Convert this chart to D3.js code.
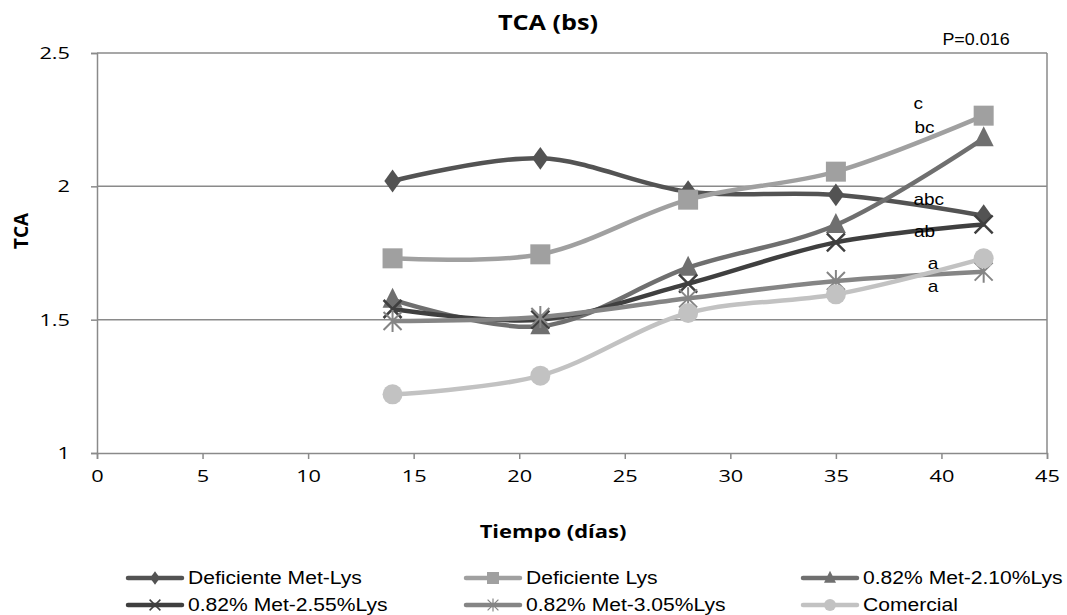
<!DOCTYPE html>
<html>
<head>
<meta charset="utf-8">
<script src="https://cdn.jsdelivr.net/npm/d3@7"></script>
<style>
  body { margin: 0; background: #fff; }
  svg { display: block; }
</style>
</head>
<body>
<div id="chart"></div>
<script>
const days = [14, 21, 28, 35, 42];
const seriesNames = ["Deficiente Met-Lys", "Deficiente Lys", "0.82% Met-2.10%Lys",
                     "0.82% Met-2.55%Lys", "0.82% Met-3.05%Lys", "Comercial"];
const defMetLys = [2.02, 2.105, 1.98, 1.968, 1.89];
const defLys = [1.73, 1.745, 1.95, 2.055, 2.265];
const met210 = [1.575, 1.475, 1.695, 1.855, 2.18];
const met255 = [1.54, 1.50, 1.635, 1.79, 1.857];
const met305 = [1.495, 1.51, 1.58, 1.645, 1.68];
const comercial = [1.22, 1.29, 1.525, 1.595, 1.73];
const letters = ["c", "bc", "abc", "ab", "a", "a"];
const letterX = [38.9, 39.2, 39.4, 39.2, 39.6, 39.6];
const letterY = [2.29, 2.2, 1.93, 1.81, 1.69, 1.605];
const xTicks = [0, 5, 10, 15, 20, 25, 30, 35, 40, 45];
const yTicks = [1, 1.5, 2, 2.5];

const width = 1067, height = 615;
const margin = {left: 97, right: 20, top: 53, bottom: 162};

const allValues = [defMetLys, defLys, met210, met255, met305, comercial];
const colors = ["#535353", "#a0a0a0", "#6f6f6f", "#3f3f3f", "#858585", "#c2c2c2"];
const symbols = ["diamond", "square", "triangle", "x", "star", "circle"];

const svg = d3.select("#chart").append("svg")
    .attr("width", width)
    .attr("height", height);

const x = d3.scaleLinear().domain([0, 45]).range([margin.left, width - margin.right]);
const y = d3.scaleLinear().domain([1, 2.5]).range([height - margin.bottom, margin.top]);

// text helper: the picture is a bit stretched sideways, so stretch the text too
function label(sel, tx, ty, str, size, bold, family, sx) {
    return sel.append("text")
        .attr("transform", `translate(${tx},${ty}) scale(${sx},1)`)
        .attr("text-anchor", "middle")
        .style("font-family", family)
        .style("font-weight", bold ? "bold" : "normal")
        .style("font-size", size + "px")
        .text(str);
}

// grid lines
svg.append("g").selectAll("line")
    .data(yTicks.slice(1))
    .enter().append("line")
    .attr("x1", x(0)).attr("x2", x(45))
    .attr("y1", d => y(d)).attr("y2", d => y(d))
    .attr("stroke", "#8a8a8a").attr("stroke-width", 1.5);

// right border
svg.append("line")
    .attr("x1", x(45)).attr("x2", x(45))
    .attr("y1", y(2.5)).attr("y2", y(1))
    .attr("stroke", "#8a8a8a").attr("stroke-width", 1.5);

const xAxis = svg.append("g")
    .attr("transform", `translate(0, ${y(1)})`)
    .call(d3.axisBottom(x).tickValues(xTicks).tickSize(6).tickPadding(11).tickFormat(d3.format("d")));
const yAxis = svg.append("g")
    .attr("transform", `translate(${x(0)}, 0)`)
    .call(d3.axisLeft(y).tickValues(yTicks).tickSize(6).tickPadding(20).tickFormat(d => d));

[xAxis, yAxis].forEach(a => {
    a.select(".domain").attr("stroke", "#8a8a8a").attr("stroke-width", 1.5);
    a.selectAll(".tick line").attr("stroke", "#8a8a8a").attr("stroke-width", 1.5);
    a.selectAll("text").attr("fill", "#000")
        .style("font-family", "'Open Sans', sans-serif").style("font-size", "17px");
});
xAxis.selectAll("text").attr("transform", "scale(1.28,1)");
yAxis.selectAll("text").attr("x", -27 / 1.28).attr("transform", "scale(1.28,1)");

const line = d3.line()
    .x((d, i) => x(days[i]))
    .y(d => y(d))
    .curve(d3.curveCatmullRom.alpha(0.5));

function drawMarker(g, type, cx, cy, color) {
    if (type === "diamond") {
        g.append("path").attr("d", d3.symbol().type(d3.symbolDiamond).size(150)())
            .attr("transform", `translate(${cx},${cy}) scale(1.25,1)`).attr("fill", color);
    } else if (type === "square") {
        g.append("rect").attr("x", cx - 10).attr("y", cy - 10).attr("width", 20).attr("height", 20)
            .attr("fill", color);
    } else if (type === "triangle") {
        g.append("path").attr("d", `M${cx},${cy - 12}L${cx + 10},${cy + 8}L${cx - 10},${cy + 8}Z`)
            .attr("fill", color);
    } else if (type === "x") {
        g.append("path").attr("d", `M${cx - 9},${cy - 9}L${cx + 9},${cy + 9}M${cx - 9},${cy + 9}L${cx + 9},${cy - 9}`)
            .attr("stroke", color).attr("stroke-width", 2.5);
    } else if (type === "star") {
        g.append("path").attr("d", `M${cx - 9},${cy - 9}L${cx + 9},${cy + 9}M${cx - 9},${cy + 9}L${cx + 9},${cy - 9}M${cx},${cy - 11}L${cx},${cy + 11}`)
            .attr("stroke", color).attr("stroke-width", 2);
    } else {
        g.append("circle").attr("cx", cx).attr("cy", cy).attr("r", 10).attr("fill", color);
    }
}

const plot = svg.append("g");
allValues.forEach((vals, s) => {
    plot.append("path")
        .datum(vals)
        .attr("d", line)
        .attr("fill", "none")
        .attr("stroke", colors[s])
        .attr("stroke-width", 4.5);
});
allValues.forEach((vals, s) => {
    vals.forEach((v, i) => drawMarker(plot, symbols[s], x(days[i]), y(v), colors[s]));
});

// significance letters
const arial = "'Liberation Sans', Arial, sans-serif";
letters.forEach((t, i) => label(svg, x(letterX[i]), y(letterY[i]), t, 17, false, arial, 1.12));

label(svg, 976, 45, "P=0.016", 16, false, arial, 1.12);
label(svg, 548, 30, "TCA (bs)", 21, true, "'Open Sans', sans-serif", 1.2);
label(svg, 553, 538, "Tiempo (días)", 18, true, "'Open Sans', sans-serif", 1.22);

svg.append("text")
    .attr("transform", "translate(28, 231) rotate(-90)")
    .attr("text-anchor", "middle")
    .style("font-family", "'Open Sans', sans-serif")
    .style("font-weight", "bold")
    .style("font-size", "19px")
    .text("TCA");

// legend
const legendX = [128, 466, 803];
const legendY = [578, 605];
const legend = svg.append("g");
seriesNames.forEach((name, s) => {
    const lx = legendX[s % 3], ly = legendY[Math.floor(s / 3)];
    legend.append("line")
        .attr("x1", lx).attr("x2", lx + 54)
        .attr("y1", ly).attr("y2", ly)
        .attr("stroke", colors[s]).attr("stroke-width", 4.5)
        .attr("stroke-linecap", "round");
    const g = legend.append("g").attr("transform", `translate(${lx + 27},${ly}) scale(0.6) translate(${-(lx + 27)},${-ly})`);
    drawMarker(g, symbols[s], lx + 27, ly, colors[s]);
    label(legend, lx + 60, ly + 6, name, 18.5, false, arial, 1.14)
        .attr("text-anchor", "start");
});
</script>
</body>
</html>
